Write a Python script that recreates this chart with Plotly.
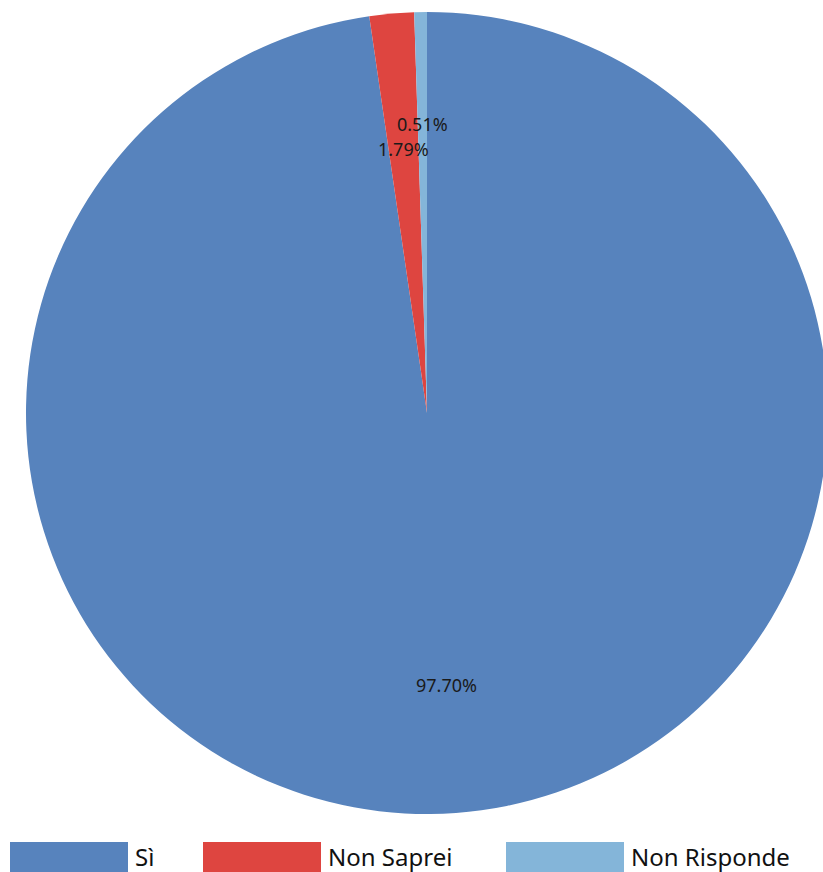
import math
import plotly.graph_objects as go

labels = ["Sì", "Non Saprei", "Non Risponde"]
values = [97.70, 1.79, 0.51]
colors = ["#5783BD", "#DE4540", "#84B5D9"]
label_radius = [0.68, 0.66, 0.72]  # fraction of pie radius for percent labels

W, H = 832, 872          # figure slightly wider than the window: the pie is clipped on the right
cx, cy, R = 427, 413, 401

fig = go.Figure(go.Pie(
    labels=labels, values=values, sort=False, direction="clockwise", rotation=0,
    marker=dict(colors=colors, line=dict(width=0)),
    textinfo="none", hoverinfo="label+percent", showlegend=False,
    domain=dict(x=[(cx - R) / W, (cx + R) / W], y=[(H - (cy + R)) / H, (H - (cy - R)) / H]),
))

annotations = []
total = sum(values)
cum = 0.0
for lab, v, rf in zip(labels, values, label_radius):
    mid = (cum + v / 2) / total * 2 * math.pi
    cum += v
    px = cx + math.sin(mid) * R * rf
    py = cy - math.cos(mid) * R * rf
    annotations.append(dict(x=px / W, y=1 - py / H, xref="paper", yref="paper",
                            xanchor="center", yanchor="middle",
                            text=f"{v / total * 100:.2f}%", showarrow=False,
                            font=dict(size=18, color="#1a1a1a", family="Noto Sans")))

# custom legend
shapes = []
leg_x = [10, 203, 506]
rect_w, rect_top, rect_bot = 118, 842, 872
for lab, col, lx in zip(labels, colors, leg_x):
    shapes.append(dict(type="rect", xref="paper", yref="paper",
                       x0=lx / W, x1=(lx + rect_w) / W,
                       y0=1 - rect_bot / H, y1=1 - rect_top / H,
                       fillcolor=col, line=dict(width=0)))
    annotations.append(dict(x=(lx + rect_w + 6) / W, y=1 - 856 / H, xref="paper", yref="paper",
                            xanchor="left", yanchor="middle", text=lab, showarrow=False,
                            borderpad=0,
                            font=dict(size=24, color="#111", family="Noto Sans")))

fig.update_layout(width=W, height=H, margin=dict(l=0, r=0, t=0, b=0),
                  paper_bgcolor="white", plot_bgcolor="white",
                  annotations=annotations, shapes=shapes)
fig.write_html("out.html", config={"displayModeBar": False},
               post_script="document.body.style.margin='0';document.body.style.overflow='hidden';")
